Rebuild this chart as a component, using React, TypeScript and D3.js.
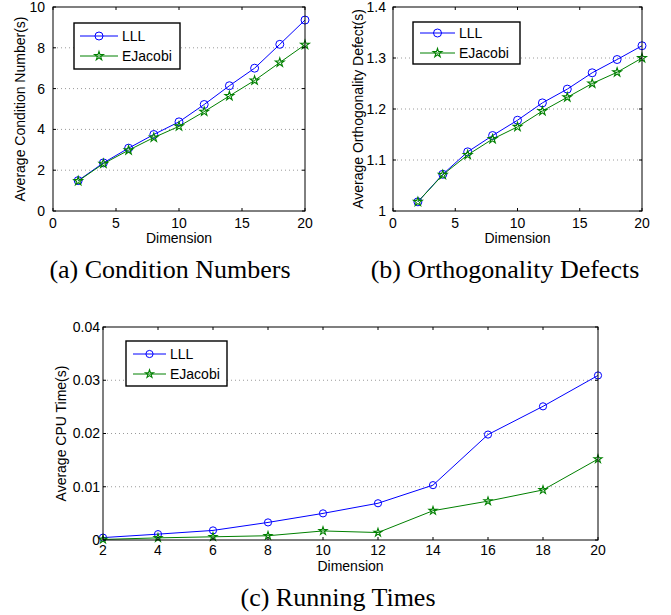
import React from 'react'
import * as d3 from 'd3'

// dimension values shared by all three panels
const dims = [2, 4, 6, 8, 10, 12, 14, 16, 18, 20]

// (a) condition numbers
const condLLL = [1.49, 2.36, 3.08, 3.75, 4.37, 5.22, 6.14, 7.0, 8.17, 9.36]
const condEJacobi = [1.47, 2.32, 2.98, 3.6, 4.15, 4.87, 5.64, 6.4, 7.28, 8.15]
const condXTicks = [0, 5, 10, 15, 20]
const condYTicks = [0, 2, 4, 6, 8, 10]

// (b) orthogonality defects
const orthLLL = [1.018, 1.072, 1.116, 1.148, 1.178, 1.212, 1.239, 1.271, 1.297, 1.324]
const orthEJacobi = [1.018, 1.071, 1.11, 1.141, 1.165, 1.196, 1.223, 1.25, 1.272, 1.3]
const orthXTicks = [0, 5, 10, 15, 20]
const orthYTicks = [1, 1.1, 1.2, 1.3, 1.4]

// (c) running times
const timeLLL = [0.00045, 0.0011, 0.0018, 0.0033, 0.005, 0.0069, 0.0103, 0.0198, 0.0251, 0.0309]
const timeEJacobi = [0.0001, 0.0004, 0.0006, 0.0008, 0.0017, 0.0014, 0.0055, 0.0073, 0.0094, 0.0152]
const timeXTicks = [2, 4, 6, 8, 10, 12, 14, 16, 18, 20]
const timeYTicks = [0, 0.01, 0.02, 0.03, 0.04]

const seriesNames = ['LLL', 'EJacobi']

const BLUE = '#0000ff'
const GREEN = '#008000'
const SANS = '"Liberation Sans", Arial, Helvetica, sans-serif'
const SERIF = '"Liberation Serif", "Times New Roman", serif'

type Box = { x0: number, x1: number, y0: number, y1: number }
type Legend = { x: number, y: number, w: number, h: number, rows: number[], lineX: [number, number], textX: number }

type PanelProps = {
    box: Box
    xDomain: [number, number]
    yDomain: [number, number]
    xTicks: number[]
    yTicks: number[]
    lll: number[]
    ej: number[]
    yLabel: string
    yLabelX: number
    fontSize: number
    yTickGap: number
    xTickDy: number
    xLabelDy: number
    circleR: number
    starSize: number
    legend: Legend
}

const Marker = ({ kind, x, y, r, size }: { kind: string, x: number, y: number, r: number, size: number }) => {
    if (kind === 'circle') {
        return <circle cx={x} cy={y} r={r} fill="none" stroke={BLUE} strokeWidth={1} />
    }
    const star = d3.symbol().type(d3.symbolStar).size(size)() || ''
    return <path d={star} transform={`translate(${x},${y})`} fill="none" stroke={GREEN} strokeWidth={1.1} />
}

function Panel(p: PanelProps) {
    const { box } = p
    const x = d3.scaleLinear().domain(p.xDomain).range([box.x0, box.x1])
    const y = d3.scaleLinear().domain(p.yDomain).range([box.y1, box.y0])
    const line = d3.line<number>().x((_, i) => x(dims[i])).y(d => y(d))
    const tick = 3
    const series = [
        { data: p.lll, color: BLUE, kind: 'circle' },
        { data: p.ej, color: GREEN, kind: 'star' },
    ]
    const midY = (box.y0 + box.y1) / 2
    const lg = p.legend

    return (
        <g fontFamily={SANS} fontSize={p.fontSize} fill="#000">
            {/* dotted horizontal grid */}
            {p.yTicks.slice(1, -1).map(t => (
                <line key={'g' + t} x1={box.x0} x2={box.x1} y1={y(t)} y2={y(t)}
                    stroke="#9a9a9a" strokeWidth={1} strokeDasharray="1,3" />
            ))}

            {/* series */}
            {series.map(s => (
                <g key={s.kind}>
                    <path d={line(s.data) || ''} fill="none" stroke={s.color} strokeWidth={1} />
                    {s.data.map((v, i) => (
                        <Marker key={i} kind={s.kind} x={x(dims[i])} y={y(v)} r={p.circleR} size={p.starSize} />
                    ))}
                </g>
            ))}

            {/* axes box with matlab-style inward ticks */}
            <rect x={box.x0} y={box.y0} width={box.x1 - box.x0} height={box.y1 - box.y0}
                fill="none" stroke="#000" strokeWidth={1} />
            {p.xTicks.map(t => (
                <g key={'xt' + t} stroke="#000" strokeWidth={1}>
                    <line x1={x(t)} x2={x(t)} y1={box.y1} y2={box.y1 - tick} />
                    <line x1={x(t)} x2={x(t)} y1={box.y0} y2={box.y0 + tick} />
                </g>
            ))}
            {p.yTicks.map(t => (
                <g key={'yt' + t} stroke="#000" strokeWidth={1}>
                    <line x1={box.x0} x2={box.x0 + tick} y1={y(t)} y2={y(t)} />
                    <line x1={box.x1} x2={box.x1 - tick} y1={y(t)} y2={y(t)} />
                </g>
            ))}

            {/* tick labels */}
            {p.xTicks.map(t => (
                <text key={'xl' + t} x={x(t)} y={box.y1 + p.xTickDy} textAnchor="middle">{String(t)}</text>
            ))}
            {p.yTicks.map(t => (
                <text key={'yl' + t} x={box.x0 - p.yTickGap} y={y(t)} dy="0.35em" textAnchor="end">{String(t)}</text>
            ))}

            {/* axis labels */}
            <text x={(box.x0 + box.x1) / 2} y={box.y1 + p.xLabelDy} textAnchor="middle">Dimension</text>
            <text transform={`translate(${p.yLabelX},${midY}) rotate(-90)`} dy="0.35em" textAnchor="middle">{p.yLabel}</text>

            {/* legend */}
            <rect x={lg.x} y={lg.y} width={lg.w} height={lg.h} fill="#fff" stroke="#000" strokeWidth={1.4} />
            {series.map((s, i) => (
                <g key={'lg' + i}>
                    <line x1={lg.lineX[0]} x2={lg.lineX[1]} y1={lg.rows[i]} y2={lg.rows[i]} stroke={s.color} strokeWidth={1} />
                    <Marker kind={s.kind} x={(lg.lineX[0] + lg.lineX[1]) / 2} y={lg.rows[i]} r={p.circleR} size={p.starSize} />
                    <text x={lg.textX} y={lg.rows[i]} dy="0.35em">{seriesNames[i]}</text>
                </g>
            ))}
        </g>
    )
}

export default function App() {
    return (
        <svg width={671} height={615} style={{ position: 'absolute', left: 0, top: 0, background: '#fff' }}>
            <rect width={671} height={615} fill="#fff" />
            <Panel
                box={{ x0: 53, x1: 305, y0: 7, y1: 211 }}
                xDomain={[0, 20]} yDomain={[0, 10]}
                xTicks={condXTicks} yTicks={condYTicks}
                lll={condLLL} ej={condEJacobi}
                yLabel="Average Condition Number(s)" yLabelX={20}
                fontSize={14} yTickGap={8} xTickDy={17} xLabelDy={32}
                circleR={4} starSize={24}
                legend={{ x: 74, y: 23, w: 106, h: 46, rows: [36, 56], lineX: [80, 118], textX: 122 }}
            />
            <Panel
                box={{ x0: 393, x1: 642, y0: 7, y1: 211 }}
                xDomain={[0, 20]} yDomain={[1, 1.4]}
                xTicks={orthXTicks} yTicks={orthYTicks}
                lll={orthLLL} ej={orthEJacobi}
                yLabel="Average Orthogonality Defect(s)" yLabelX={358}
                fontSize={14} yTickGap={7} xTickDy={17} xLabelDy={32}
                circleR={4} starSize={24}
                legend={{ x: 413, y: 22, w: 107, h: 42, rows: [33, 53], lineX: [420, 455], textX: 459 }}
            />
            <Panel
                box={{ x0: 103, x1: 598, y0: 327, y1: 540 }}
                xDomain={[2, 20]} yDomain={[0, 0.04]}
                xTicks={timeXTicks} yTicks={timeYTicks}
                lll={timeLLL} ej={timeEJacobi}
                yLabel="Average CPU Time(s)" yLabelX={61}
                fontSize={14} yTickGap={3} xTickDy={15} xLabelDy={31}
                circleR={3.6} starSize={20}
                legend={{ x: 126, y: 341, w: 101, h: 45, rows: [354, 374], lineX: [133, 166], textX: 170 }}
            />

            <g fontFamily={SERIF} fontSize={26} fill="#000" textAnchor="middle">
                <text x={170} y={278}>(a) Condition Numbers</text>
                <text x={505} y={278}>(b) Orthogonality Defects</text>
                <text x={338} y={606}>(c) Running Times</text>
            </g>
        </svg>
    )
}
